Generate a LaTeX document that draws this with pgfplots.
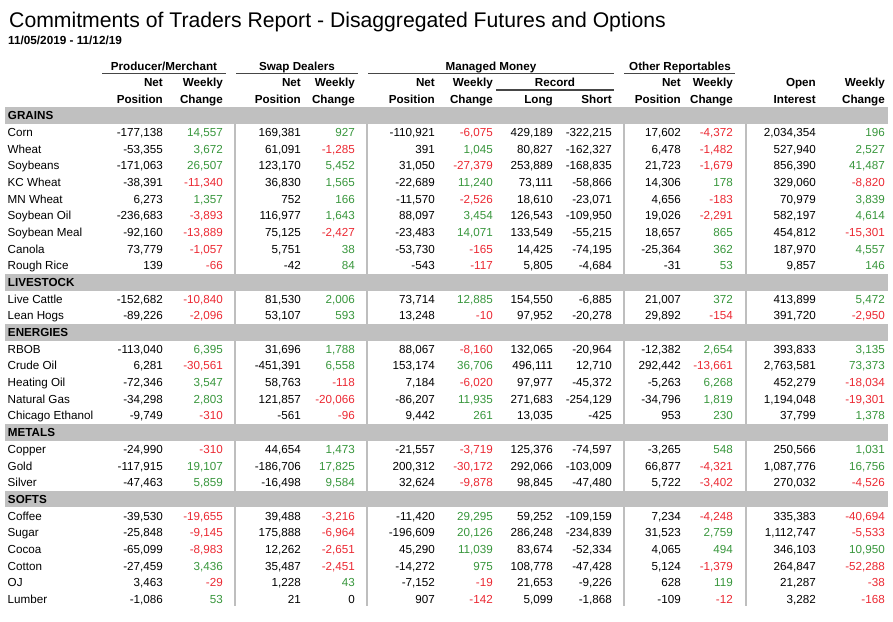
\documentclass[border=0pt]{standalone}
\usepackage{fontspec}
\setmainfont{Liberation Sans}
\usepackage{pgfplots}
\usepackage{pgfplotstable}
\pgfplotsset{compat=1.18}
\definecolor{posg}{RGB}{56,150,60}
\definecolor{negr}{RGB}{235,40,50}
\definecolor{band}{RGB}{192,192,192}
\definecolor{sepc}{RGB}{190,190,190}
\definecolor{hdl}{RGB}{70,70,70}
\newcommand\bodyfont{\fontsize{11.65}{14}\selectfont}
\newcommand\hdfont{\fontsize{11.65}{14}\selectfont\bfseries}

\pgfplotstableread{
row name pp pc sp sc mp mc ml ms op oc oi oic
1 Corn -177138 14557 169381 927 -110921 -6075 429189 -322215 17602 -4372 2034354 196
2 Wheat -53355 3672 61091 -1285 391 1045 80827 -162327 6478 -1482 527940 2527
3 Soybeans -171063 26507 123170 5452 31050 -27379 253889 -168835 21723 -1679 856390 41487
4 {KC Wheat} -38391 -11340 36830 1565 -22689 11240 73111 -58866 14306 178 329060 -8820
5 {MN Wheat} 6273 1357 752 166 -11570 -2526 18610 -23071 4656 -183 70979 3839
6 {Soybean Oil} -236683 -3893 116977 1643 88097 3454 126543 -109950 19026 -2291 582197 4614
7 {Soybean Meal} -92160 -13889 75125 -2427 -23483 14071 133549 -55215 18657 865 454812 -15301
8 Canola 73779 -1057 5751 38 -53730 -165 14425 -74195 -25364 362 187970 4557
9 {Rough Rice} 139 -66 -42 84 -543 -117 5805 -4684 -31 53 9857 146
11 {Live Cattle} -152682 -10840 81530 2006 73714 12885 154550 -6885 21007 372 413899 5472
12 {Lean Hogs} -89226 -2096 53107 593 13248 -10 97952 -20278 29892 -154 391720 -2950
14 RBOB -113040 6395 31696 1788 88067 -8160 132065 -20964 -12382 2654 393833 3135
15 {Crude Oil} 6281 -30561 -451391 6558 153174 36706 496111 12710 292442 -13661 2763581 73373
16 {Heating Oil} -72346 3547 58763 -118 7184 -6020 97977 -45372 -5263 6268 452279 -18034
17 {Natural Gas} -34298 2803 121857 -20066 -86207 11935 271683 -254129 -34796 1819 1194048 -19301
18 {Chicago Ethanol} -9749 -310 -561 -96 9442 261 13035 -425 953 230 37799 1378
20 Copper -24990 -310 44654 1473 -21557 -3719 125376 -74597 -3265 548 250566 1031
21 Gold -117915 19107 -186706 17825 200312 -30172 292066 -103009 66877 -4321 1087776 16756
22 Silver -47463 5859 -16498 9584 32624 -9878 98845 -47480 5722 -3402 270032 -4526
24 Coffee -39530 -19655 39488 -3216 -11420 29295 59252 -109159 7234 -4248 335383 -40694
25 Sugar -25848 -9145 175888 -6964 -196609 20126 286248 -234839 31523 2759 1112747 -5533
26 Cocoa -65099 -8983 12262 -2651 45290 11039 83674 -52334 4065 494 346103 10950
27 Cotton -27459 3436 35487 -2451 -14272 975 108778 -47428 5124 -1379 264847 -52288
28 OJ 3463 -29 1228 43 -7152 -19 21653 -9226 628 119 21287 -38
29 Lumber -1086 53 21 0 907 -142 5099 -1868 -109 -12 3282 -168
}\cot

\pgfplotstableread{
row name
0 GRAINS
10 LIVESTOCK
13 ENERGIES
19 METALS
23 SOFTS
}\sections

\pgfplotsset{
  basecol/.style={mark=none, draw=none, point meta=explicit symbolic,
    every node near coord/.style={anchor=base east, inner sep=0pt, text=black, font=\bodyfont}},
  chgcol/.style={basecol,
    nodes near coords={\ifnum\pgfplotspointmeta<0 \color{negr}\else\ifnum\pgfplotspointmeta>0 \color{posg}\fi\fi\pgfmathprintnumber[fixed,precision=0,1000 sep={,}]{\pgfplotspointmeta}}},
  poscol/.style={basecol,
    nodes near coords={\pgfmathprintnumber[fixed,precision=0,1000 sep={,}]{\pgfplotspointmeta}}},
  namecol/.style={mark=none, draw=none, point meta=explicit symbolic, nodes near coords,
    every node near coord/.style={anchor=base west, inner sep=0pt, text=black, font=\bodyfont}},
  seccol/.style={mark=none, draw=none, point meta=explicit symbolic, nodes near coords,
    every node near coord/.style={anchor=base west, inner sep=0pt, text=black, font=\hdfont}},
}
\tikzset{hd/.style={anchor=base east, inner sep=0pt, font=\hdfont}}

\begin{document}
\begin{tikzpicture}
\begin{axis}[name=T, scale only axis, width=893pt, height=621pt,
  xmin=0, xmax=893, ymin=0, ymax=621, y dir=reverse, hide axis, clip=false,
  /pgf/number format/assume math mode=true]

% separators
\pgfplotsinvokeforeach{235,367,624,746}{
  \draw[sepc, line width=1.8pt] (axis cs:#1,124) -- (axis cs:#1,605.5);
}
% section bands
\pgfplotsinvokeforeach{0,10,13,19,23}{
  \fill[band] (axis cs:5,{107.3+16.67*#1}) rectangle (axis cs:888,{123.97+16.67*#1});
}

% title
\node[anchor=base west, inner sep=0pt, font=\fontsize{21.2}{24}\selectfont] at (axis cs:9,28) {Commitments of Traders Report - Disaggregated Futures and Options};
\node[anchor=base west, inner sep=0pt, font=\fontsize{11.75}{14}\selectfont\bfseries] at (axis cs:8,45) {11/05/2019 - 11/12/19};

% group headers
\node[anchor=base, inner sep=0pt, font=\hdfont] at (axis cs:164,70.5) {Producer/Merchant};
\node[anchor=base, inner sep=0pt, font=\hdfont] at (axis cs:297,70.5) {Swap Dealers};
\node[anchor=base, inner sep=0pt, font=\hdfont] at (axis cs:491,70.5) {Managed Money};
\node[anchor=base, inner sep=0pt, font=\hdfont] at (axis cs:680,70.5) {Other Reportables};
\draw[hdl, line width=1.5pt] (axis cs:102,73.6) -- (axis cs:226,73.6);
\draw[hdl, line width=1.5pt] (axis cs:236,73.6) -- (axis cs:358,73.6);
\draw[hdl, line width=1.5pt] (axis cs:368,73.6) -- (axis cs:614,73.6);
\draw[hdl, line width=1.5pt] (axis cs:624,73.6) -- (axis cs:735,73.6);
\node[anchor=base, inner sep=0pt, font=\hdfont] at (axis cs:555,86) {Record};
\draw[hdl, line width=1.5pt] (axis cs:496,90) -- (axis cs:614,90);

% column headers
\node[hd] at (axis cs:163,86) {Net};    \node[hd] at (axis cs:163,103.8) {Position};
\node[hd] at (axis cs:223,86) {Weekly}; \node[hd] at (axis cs:223,103.8) {Change};
\node[hd] at (axis cs:301,86) {Net};    \node[hd] at (axis cs:301,103.8) {Position};
\node[hd] at (axis cs:355,86) {Weekly}; \node[hd] at (axis cs:355,103.8) {Change};
\node[hd] at (axis cs:435,86) {Net};    \node[hd] at (axis cs:435,103.8) {Position};
\node[hd] at (axis cs:493,86) {Weekly}; \node[hd] at (axis cs:493,103.8) {Change};
\node[hd] at (axis cs:553,103.8) {Long};
\node[hd] at (axis cs:612,103.8) {Short};
\node[hd] at (axis cs:681,86) {Net};    \node[hd] at (axis cs:681,103.8) {Position};
\node[hd] at (axis cs:733,86) {Weekly}; \node[hd] at (axis cs:733,103.8) {Change};
\node[hd] at (axis cs:816,86) {Open};   \node[hd] at (axis cs:816,103.8) {Interest};
\node[hd] at (axis cs:885,86) {Weekly}; \node[hd] at (axis cs:885,103.8) {Change};

% section names
\addplot[seccol] table[x expr=7.8, y expr={119.93+16.67*\thisrow{row}}, meta=name]{\sections};
% row names
\addplot[namecol] table[x expr=7.5, y expr={119.93+16.67*\thisrow{row}}, meta=name]{\cot};

% values
\addplot[poscol] table[x expr=163, y expr={119.93+16.67*\thisrow{row}}, meta=pp]{\cot};
\addplot[chgcol] table[x expr=223, y expr={119.93+16.67*\thisrow{row}}, meta=pc]{\cot};
\addplot[poscol] table[x expr=301, y expr={119.93+16.67*\thisrow{row}}, meta=sp]{\cot};
\addplot[chgcol] table[x expr=355, y expr={119.93+16.67*\thisrow{row}}, meta=sc]{\cot};
\addplot[poscol] table[x expr=435, y expr={119.93+16.67*\thisrow{row}}, meta=mp]{\cot};
\addplot[chgcol] table[x expr=493, y expr={119.93+16.67*\thisrow{row}}, meta=mc]{\cot};
\addplot[poscol] table[x expr=553, y expr={119.93+16.67*\thisrow{row}}, meta=ml]{\cot};
\addplot[poscol] table[x expr=612, y expr={119.93+16.67*\thisrow{row}}, meta=ms]{\cot};
\addplot[poscol] table[x expr=681, y expr={119.93+16.67*\thisrow{row}}, meta=op]{\cot};
\addplot[chgcol] table[x expr=733, y expr={119.93+16.67*\thisrow{row}}, meta=oc]{\cot};
\addplot[poscol] table[x expr=816, y expr={119.93+16.67*\thisrow{row}}, meta=oi]{\cot};
\addplot[chgcol] table[x expr=885, y expr={119.93+16.67*\thisrow{row}}, meta=oic]{\cot};
\end{axis}
\pgfresetboundingbox
\path (T.south west) rectangle (T.north east);
\end{tikzpicture}
\end{document}
